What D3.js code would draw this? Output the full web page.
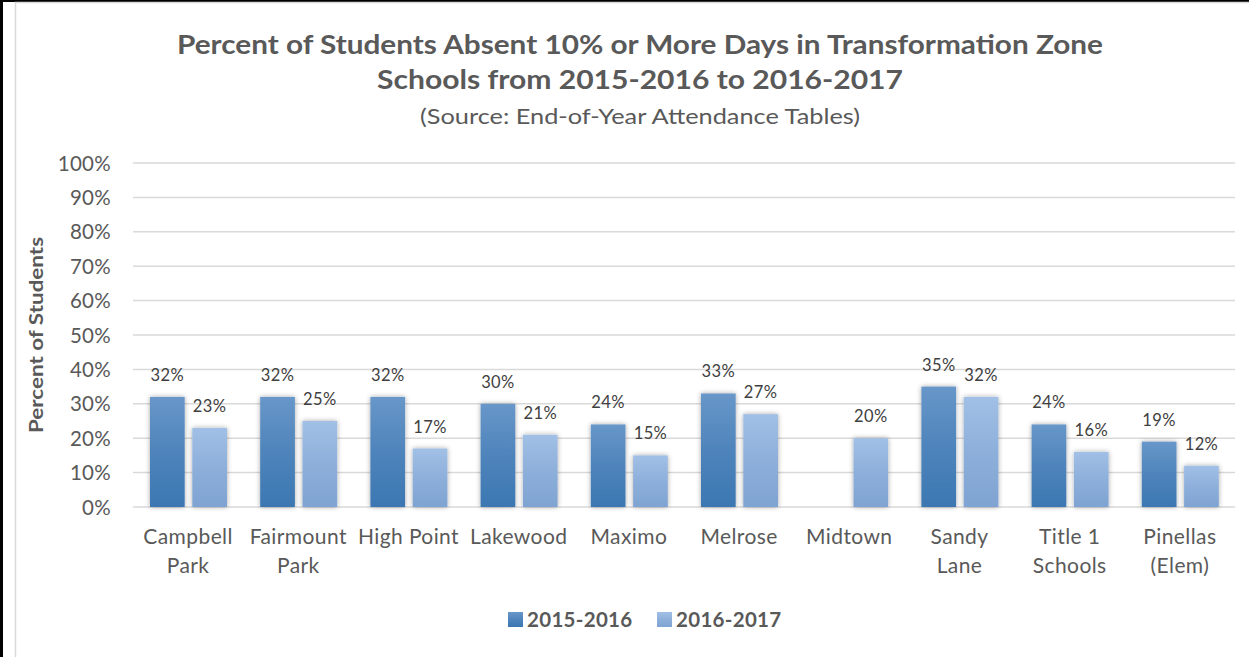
<!DOCTYPE html>
<html>
<head>
<meta charset="utf-8">
<script src="https://cdn.jsdelivr.net/npm/d3@7"></script>
<style>
  body { margin: 0; background: #fff; }
  svg { display: block; font-family: Lato, "Open Sans", sans-serif; }
</style>
</head>
<body>
<svg id="chart" width="1249" height="657"></svg>
<script>
const schools = ['Campbell Park', 'Fairmount Park', 'High Point', 'Lakewood', 'Maximo', 'Melrose', 'Midtown', 'Sandy Lane', 'Title 1 Schools', 'Pinellas (Elem)']
const schoolLines = [['Campbell', 'Park'], ['Fairmount', 'Park'], ['High Point'], ['Lakewood'], ['Maximo'], ['Melrose'], ['Midtown'], ['Sandy', 'Lane'], ['Title 1', 'Schools'], ['Pinellas', '(Elem)']]
const years = ['2015-2016', '2016-2017']
const y2016 = [32, 32, 32, 30, 24, 33, null, 35, 24, 19]
const y2017 = [23, 25, 17, 21, 15, 27, 20, 32, 16, 12]
const yTicks = [0, 10, 20, 30, 40, 50, 60, 70, 80, 90, 100]

const svg = d3.select('#chart')
const textColor = '#595959'

// frame
svg.append('rect').attr('x', 1.5).attr('y', 0.5).attr('width', 1300).attr('height', 700)
  .attr('fill', 'none').attr('stroke', '#000').attr('stroke-width', 3)
svg.append('rect').attr('x', 15.5).attr('y', 2.5).attr('width', 1300).attr('height', 700)
  .attr('fill', '#fff').attr('stroke', '#d9d9d9').attr('stroke-width', 1.5)

const defs = svg.append('defs')
const grads = [['g0', '#6897c9', '#3c77b2'], ['g1', '#a2c0e6', '#7fa3d2']]
grads.forEach(([id, top, bottom]) => {
  const g = defs.append('linearGradient').attr('id', id).attr('x1', 0).attr('y1', 0).attr('x2', 0).attr('y2', 1)
  g.append('stop').attr('offset', '0%').attr('stop-color', top)
  g.append('stop').attr('offset', '50%').attr('stop-color', d3.interpolateRgb(top, bottom)(0.6))
  g.append('stop').attr('offset', '100%').attr('stop-color', bottom)
})
const shadow = defs.append('filter').attr('id', 'shadow').attr('x', '-30%').attr('y', '-10%').attr('width', '160%').attr('height', '120%')
shadow.append('feDropShadow').attr('dx', 0).attr('dy', 0).attr('stdDeviation', 2.5)
  .attr('flood-color', '#000').attr('flood-opacity', 0.35)

// title
svg.append('text').attr('x', 640).attr('y', 54).attr('text-anchor', 'middle')
  .attr('font-size', 26).attr('font-weight', 'bold').attr('fill', textColor)
  .attr('textLength', 926).attr('lengthAdjust', 'spacingAndGlyphs')
  .text('Percent of Students Absent 10% or More Days in Transformation Zone')
svg.append('text').attr('x', 640).attr('y', 89).attr('text-anchor', 'middle')
  .attr('font-size', 26).attr('font-weight', 'bold').attr('fill', textColor)
  .attr('textLength', 526).attr('lengthAdjust', 'spacingAndGlyphs')
  .text('Schools from 2015-2016 to 2016-2017')
svg.append('text').attr('x', 640).attr('y', 124).attr('text-anchor', 'middle')
  .attr('font-size', 22).attr('fill', textColor)
  .attr('textLength', 440).attr('lengthAdjust', 'spacingAndGlyphs')
  .text('(Source: End-of-Year Attendance Tables)')

const x0 = d3.scaleBand().domain(schools).range([133, 1235])
const x1 = d3.scaleBand().domain(years).range([17, 94]).paddingInner(0.18)
const y = d3.scaleLinear().domain([0, 100]).range([507, 163])

// gridlines
svg.append('g').selectAll('line').data(yTicks).enter().append('line')
  .attr('x1', 133).attr('x2', 1235)
  .attr('y1', d => y(d)).attr('y2', d => y(d))
  .attr('stroke', '#d9d9d9').attr('stroke-width', 1.5)

const yAxis = svg.append('g').attr('transform', 'translate(111,0)')
  .call(d3.axisLeft(y).tickValues(yTicks).tickFormat(d => d + '%').tickSize(0).tickPadding(0))
yAxis.select('.domain').remove()
yAxis.selectAll('text').attr('font-size', 20.5).attr('fill', textColor).attr('letter-spacing', 0.3)
  .attr('font-family', 'Lato, "Open Sans", sans-serif').attr('dy', '0.35em')

svg.append('text').attr('transform', 'translate(43,335) rotate(-90)').attr('text-anchor', 'middle')
  .attr('font-size', 19).attr('font-weight', 'bold').attr('fill', textColor)
  .attr('textLength', 196).attr('lengthAdjust', 'spacingAndGlyphs')
  .text('Percent of Students')

// bars
const series = [y2016, y2017]
const groups = svg.append('g').selectAll('g').data(schools).enter().append('g')
  .attr('transform', d => `translate(${x0(d)},0)`)

groups.each(function (school, i) {
  const g = d3.select(this)
  years.forEach((yr, s) => {
    const v = series[s][i]
    if (v == null) return
    g.append('rect')
      .attr('x', x1(yr)).attr('width', x1.bandwidth())
      .attr('y', y(v)).attr('height', y(0) - y(v))
      .attr('fill', `url(#g${s})`).attr('filter', 'url(#shadow)')
    g.append('text')
      .attr('x', x1(yr) + x1.bandwidth() / 2).attr('y', y(v) - 16)
      .attr('text-anchor', 'middle').attr('font-size', 16.5).attr('letter-spacing', 0.4).attr('fill', '#404040')
      .text(v + '%')
  })
})

// category labels
groups.append('g').selectAll('text').data((d, i) => schoolLines[i]).enter().append('text')
  .attr('x', x0.bandwidth() / 2).attr('y', (d, j) => 544 + j * 29)
  .attr('text-anchor', 'middle').attr('font-size', 21).attr('letter-spacing', 0.4).attr('fill', textColor)
  .text(d => d)

// legend
const legend = svg.append('g')
const legendX = [508, 657]
years.forEach((yr, s) => {
  legend.append('rect').attr('x', legendX[s]).attr('y', 612).attr('width', 15).attr('height', 15)
    .attr('fill', `url(#g${s})`)
  legend.append('text').attr('x', legendX[s] + 19).attr('y', 627)
    .attr('font-size', 20.5).attr('letter-spacing', 0.3).attr('font-weight', 'bold').attr('fill', textColor)
    .text(yr)
})
</script>
</body>
</html>
